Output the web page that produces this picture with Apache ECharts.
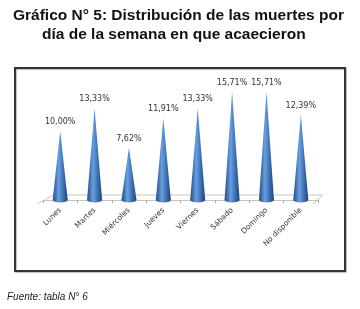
<!DOCTYPE html>
<html>
<head>
<meta charset="utf-8">
<script src="https://cdn.jsdelivr.net/npm/echarts@6/dist/echarts.min.js"></script>
<style>
  html, body { margin: 0; padding: 0; background: #fff; }
  #chart { width: 360px; height: 309px; }
</style>
</head>
<body>
<div id="chart"></div>
<script>
// datos del gráfico
var dias = ['Lunes', 'Martes', 'Miércoles', 'Jueves', 'Viernes', 'Sábado', 'Domingo', 'No disponible'];
var porcentajes = [10.00, 13.33, 7.62, 11.91, 13.33, 15.71, 15.71, 12.39];

var tituloLinea1 = 'Gráfico N° 5: Distribución de las muertes por';
var tituloLinea2 = 'día de la semana en que acaecieron';
var fuente = 'Fuente: tabla N° 6';

var chart = echarts.init(document.getElementById('chart'));

var conoColor = new echarts.graphic.LinearGradient(0, 0, 1, 0, [
    { offset: 0, color: '#1f4a85' },
    { offset: 0.4, color: '#6a9fdd' },
    { offset: 0.6, color: '#4a80c6' },
    { offset: 1, color: '#1b417a' }
]);

var option = {
    animation: false,
    title: [{
        text: tituloLinea1,
        left: 8,
        top: 3,
        textStyle: { fontFamily: 'Liberation Sans', fontSize: 15.5, fontWeight: 'bold', color: '#111' }
    }, {
        text: tituloLinea2,
        left: 37,
        top: 22,
        textStyle: { fontFamily: 'Liberation Sans', fontSize: 15.5, fontWeight: 'bold', color: '#111' }
    }, {
        text: fuente,
        left: 2,
        top: 287,
        textStyle: { fontFamily: 'Liberation Sans', fontSize: 10, fontStyle: 'italic', fontWeight: 'normal', color: '#222' }
    }],
    grid: {
        left: 43,
        right: 42,
        top: 76,
        bottom: 109
    },
    xAxis: {
        type: 'category',
        data: dias,
        offset: 4,
        axisLine: { show: true, lineStyle: { color: '#c4c4c4', width: 1 } },
        axisTick: { show: true, length: 3, lineStyle: { color: '#aaa' } },
        axisLabel: {
            rotate: 45,
            interval: 0,
            margin: 5,
            fontFamily: 'DejaVu Sans',
            fontSize: 7.5,
            color: '#333'
        }
    },
    yAxis: {
        type: 'value',
        min: 0,
        max: 18,
        show: false,
        splitLine: { show: false }
    },
    series: [{
        type: 'pictorialBar',
        data: porcentajes,
        symbol: 'path://M0,100 L5,0 L10,100 Z',
        symbolSize: [15, '100%'],
        symbolPosition: 'start',
        itemStyle: { color: conoColor },
        label: {
            show: true,
            position: 'top',
            distance: 5,
            fontFamily: 'DejaVu Sans',
            fontSize: 8,
            color: '#333',
            formatter: function (p) { return p.value.toFixed(2).replace('.', ',') + '%'; }
        },
        z: 3
    }, {
        type: 'pictorialBar',
        data: porcentajes,
        symbol: 'circle',
        symbolSize: [15, 5],
        symbolPosition: 'start',
        symbolOffset: [0, '50%'],
        itemStyle: { color: conoColor },
        z: 2
    }]
};

chart.setOption(option);

// piso en perspectiva y marco con sombra
var izq = chart.convertToPixel({ xAxisIndex: 0 }, dias[0]) - 23;
var der = chart.convertToPixel({ xAxisIndex: 0 }, dias[dias.length - 1]) + 12;
var base = chart.convertToPixel({ yAxisIndex: 0 }, 0);
chart.setOption({
    graphic: [{
        type: 'polyline',
        shape: { points: [[izq, base + 4], [izq + 16, base - 5], [der + 10, base - 5], [der, base + 4]] },
        style: { stroke: '#c4c4c4', lineWidth: 1, fill: null },
        z: 1
    }, {
        type: 'rect',
        shape: { x: 15, y: 68, width: 330, height: 203 },
        style: {
            fill: null,
            stroke: '#333',
            lineWidth: 2,
            shadowColor: 'rgba(0,0,0,0.25)',
            shadowBlur: 1,
            shadowOffsetX: 1,
            shadowOffsetY: 1
        },
        z: 0
    }]
});
</script>
</body>
</html>
